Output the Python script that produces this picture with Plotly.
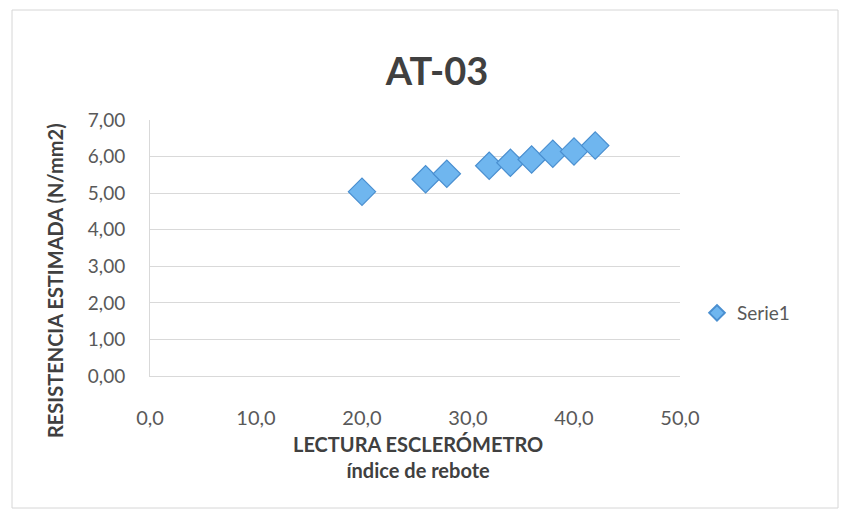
import plotly.graph_objects as go

# Data
lectura = [20, 26, 28, 32, 34, 36, 38, 40, 42]
resistencia = [5.04, 5.38, 5.53, 5.75, 5.83, 5.92, 6.08, 6.14, 6.30]
serie_name = "Serie1"
title_text = "AT-03"
x_title = "LECTURA ESCLERÓMETRO<br>índice de rebote"
y_title = "RESISTENCIA ESTIMADA (N/mm2)"
x_ticks = [0, 10, 20, 30, 40, 50]
y_ticks = [0, 1, 2, 3, 4, 5, 6, 7]

FONT = "Lato"
W, H = 848, 524
L, R, T, B = 150, 168, 120, 148
pw, ph = W - L - R, H - T - B

def px_x(p):
    return (p - L) / pw

def px_y(p):
    return (H - B - p) / ph

fig = go.Figure()
fig.add_trace(go.Scatter(
    x=lectura, y=resistencia, mode="markers", name=serie_name,
    marker=dict(symbol="diamond", size=21, color="#6FB6EF",
                line=dict(color="#4A8FD0", width=1.2)),
))

fig.update_layout(
    width=W, height=H,
    margin=dict(l=L, r=R, t=T, b=B),
    paper_bgcolor="white", plot_bgcolor="white",
    separators=",.",
    font=dict(family=FONT, color="#595959", size=19),
    title=dict(text="<b>" + title_text + "</b>", x=px_x(437), xref="paper",
               xanchor="center", y=1 - 72 / H, yanchor="middle",
               font=dict(family=FONT, size=38, color="#404040")),
    showlegend=True,
    legend=dict(x=px_x(697), y=px_y(313), xanchor="left", yanchor="middle",
                font=dict(family=FONT, size=19, color="#595959"),
                bgcolor="rgba(0,0,0,0)", itemsizing="constant"),
    xaxis=dict(range=[0, 50], tickvals=x_ticks, tickformat=".1f",
               showgrid=False, zeroline=False, showline=True,
               linecolor="#D9D9D9", linewidth=1,
               ticks="", ticklabelstandoff=24,
               tickfont=dict(size=20, color="#595959"),
               fixedrange=True),
    yaxis=dict(range=[0, 7], tickvals=y_ticks, tickformat=".2f",
               showgrid=True, gridcolor="#D9D9D9", gridwidth=1,
               zeroline=False, showline=True, linecolor="#D9D9D9",
               ticks="", ticklabelstandoff=20,
               tickfont=dict(size=19, color="#595959"),
               fixedrange=True),
)

# axis titles as annotations
fig.add_annotation(text="<b>" + x_title + "</b>", xref="paper", yref="paper",
                   x=px_x(418), y=px_y(457), showarrow=False,
                   xanchor="center", yanchor="middle",
                   font=dict(family=FONT, size=20, color="#404040"))
fig.add_annotation(text="<b>" + y_title + "</b>", xref="paper", yref="paper",
                   x=px_x(55), y=px_y(281), showarrow=False, textangle=-90,
                   xanchor="center", yanchor="middle",
                   font=dict(family=FONT, size=20, color="#404040"))

# faint chart border
fig.add_shape(type="rect", xref="paper", yref="paper",
              x0=px_x(12), x1=px_x(838), y0=px_y(508), y1=px_y(10),
              line=dict(color="#D6D6D6", width=1))

fig.write_html("out.html")
